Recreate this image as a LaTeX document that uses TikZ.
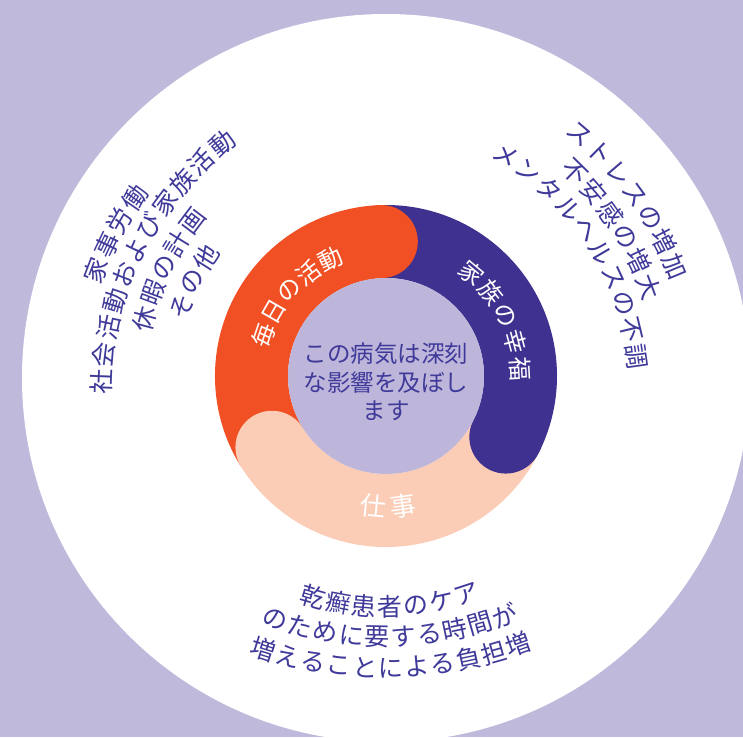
\documentclass[tikz,border=0pt]{standalone}
\usepackage{fontspec}
\usepackage{tikz}
\newfontfamily\jpfont{Noto Sans CJK JP}

\definecolor{bgpurple}{HTML}{BFB9DB}
\definecolor{ringorange}{HTML}{F05023}
\definecolor{ringnavy}{HTML}{3E3190}
\definecolor{ringpeach}{HTML}{FBCDB6}
\definecolor{corelav}{HTML}{BDB6DA}
\definecolor{textnavy}{HTML}{3F3A9A}

% one line of glyphs set along an arc
% #1 name, #2 style, #3 mid angle, #4 radius at mid, #5 bend radius, #6 pitch (<0: top, >0: bottom), #7 count, #8 glyphs
\newcommand{\arcline}[8]{%
	\foreach \kchar [count=\i] in {#8} {
		\pgfmathsetmacro{\kang}{#3+(\i-(#7+1)/2)*#6/#5*57.2958}
		\pgfmathsetmacro{\krot}{#6<0 ? \kang-90 : \kang+90}
		\node[#2,rotate=\krot] (#1-\i) at ([shift={(#3:{#4-#5})}]\kang:#5) {\kchar};
	}%
}

\begin{document}
\begin{tikzpicture}[x=1pt,y=1pt,
	ringlbl/.style={font=\jpfont\fontsize{24}{24}\selectfont,text=white,inner sep=0pt},
	outerlbl/.style={font=\jpfont\fontsize{25}{25}\selectfont,text=textnavy,inner sep=0pt}]
	\useasboundingbox (-386,-361) rectangle (357,376);
	\fill[bgpurple] (-386,-361) rectangle (357,376);
	\fill[white] (0,-2) circle (364);

	% the ring
	\draw[line width=73,ringorange] (212:134.5) arc[start angle=212,end angle=92,radius=134.5];
	\draw[line width=73,ringnavy] (92:134.5) arc[start angle=92,end angle=-27,radius=134.5];
	\draw[line width=73,ringpeach] (-27:134.5) arc[start angle=-27,end angle=-148,radius=134.5];
	\fill[ringorange] (92:134.5) circle (36.5);
	\fill[ringnavy] (-27:134.5) circle (36.5);
	\fill[ringpeach] (212:134.5) circle (36.5);
	\fill[corelav] (0,0) circle (98);

	\node[font=\jpfont\fontsize{23.5}{28.5}\selectfont,text=textnavy,align=center] (core) at (0,-6) {この病気は深刻\\な影響を及ぼし\\ます};

	\arcline{daily}{ringlbl}{138.5}{129}{129}{-26}{5}{毎,日,の,活,動}
	\arcline{family}{ringlbl}{26.7}{134}{134}{-27.5}{5}{家,族,の,幸,福}
	\arcline{work}{ringlbl,font=\jpfont\fontsize{26}{26}\selectfont}{-89}{131}{131}{30}{2}{仕,事}

	% left
	\arcline{lefta}{outerlbl}{152.3}{308}{350}{-27.5}{4}{家,事,労,働}
	\arcline{leftb}{outerlbl}{153.2}{280}{320}{-27.5}{11}{社,会,活,動,お,よ,び,家,族,活,動}
	\arcline{leftc}{outerlbl}{154}{247}{285}{-27.5}{5}{休,暇,の,計,画}
	\arcline{leftd}{outerlbl}{154}{215}{250}{-27.5}{3}{そ,の,他}

	% right
	\arcline{righta}{outerlbl}{36}{308}{350}{-27.5}{7}{ス,ト,レ,ス,の,増,加}
	\arcline{rightb}{outerlbl}{33}{277}{315}{-27.5}{6}{不,安,感,の,増,大}
	\arcline{rightc}{outerlbl}{33}{247}{285}{-27.5}{10}{メ,ン,タ,ル,ヘ,ル,ス,の,不,調}

	% bottom
	\arcline{bota}{outerlbl}{-89}{231}{260}{26}{7}{乾,癬,患,者,の,ケ,ア}
	\arcline{botb}{outerlbl}{-89}{261}{345}{26}{10}{の,た,め,に,要,す,る,時,間,が}
	\arcline{botc}{outerlbl}{-89}{292}{400}{26}{11}{増,え,る,こ,と,に,よ,る,負,担,増}
\end{tikzpicture}
\end{document}
